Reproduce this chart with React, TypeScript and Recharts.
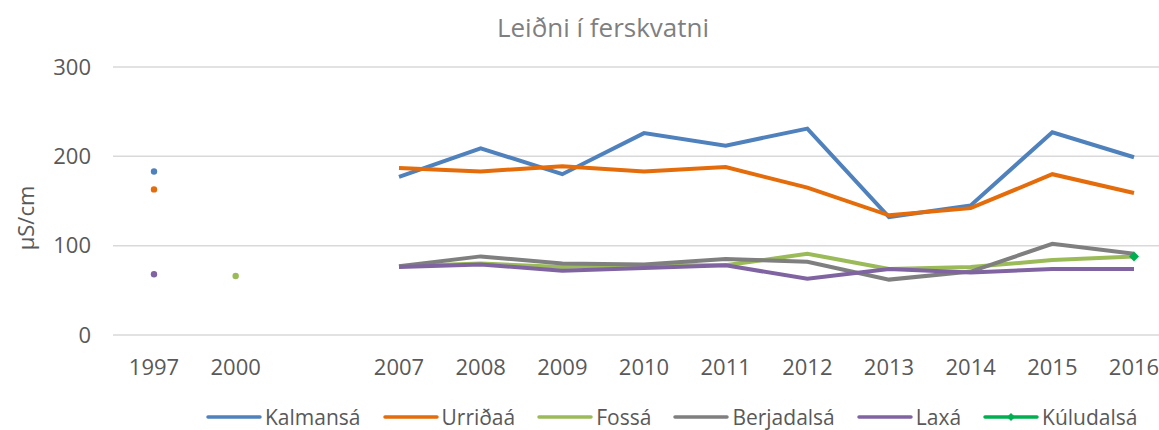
import React from "react";
import {
  CartesianGrid,
  Legend,
  Line,
  LineChart,
  XAxis,
  YAxis,
} from "recharts";

const YEARS = ["1997", "2000", "", "2007", "2008", "2009", "2010", "2011", "2012", "2013", "2014", "2015", "2016"];

const KALMANSA = [183, null, null, 177, 209, 180, 226, 212, 231, 132, 145, 227, 199];
const URRIDAA = [163, null, null, 187, 183, 189, 183, 188, 165, 134, 142, 180, 159];
const FOSSA = [null, 66, null, 77, 80, 76, 78, 78, 91, 74, 76, 84, 88];
const BERJADALSA = [null, null, null, 77, 88, 80, 79, 85, 82, 62, 71, 102, 91];
const LAXA = [68, null, null, 76, 79, 72, 75, 78, 63, 74, 70, 74, 74];
const KULUDALSA = [null, null, null, null, null, null, null, null, null, null, null, null, 88];

const Y_TICKS = [0, 100, 200, 300];

const SERIES = [
  { key: "Kalmansá", values: KALMANSA, color: "#4F81BD" },
  { key: "Urriðaá", values: URRIDAA, color: "#E46C0A" },
  { key: "Fossá", values: FOSSA, color: "#9BBB59" },
  { key: "Berjadalsá", values: BERJADALSA, color: "#7F7F7F" },
  { key: "Laxá", values: LAXA, color: "#8064A2" },
  { key: "Kúludalsá", values: KULUDALSA, color: "#00B050", diamond: true },
];

const data = YEARS.map((year, i) => {
  const row: Record<string, string | number | null> = { year };
  SERIES.forEach((s) => {
    row[s.key] = s.values[i];
  });
  return row;
});

const FONT = "'Open Sans', sans-serif";
const TEXT = "#595959";

function makeDot(s: (typeof SERIES)[number]) {
  return (props: any) => {
    const { cx, cy, index } = props;
    const v = s.values;
    const isolated =
      v[index] != null && v[index - 1] == null && v[index + 1] == null;
    if (cx == null || cy == null) return <g key={`${s.key}-${index}`} />;
    if (s.diamond && v[index] != null) {
      return (
        <path
          key={`${s.key}-${index}`}
          d={`M${cx},${cy - 5} L${cx + 5},${cy} L${cx},${cy + 5} L${cx - 5},${cy} Z`}
          fill={s.color}
        />
      );
    }
    if (!isolated) return <g key={`${s.key}-${index}`} />;
    return <circle key={`${s.key}-${index}`} cx={cx} cy={cy} r={3.2} fill={s.color} />;
  };
}

function LegendContent() {
  return (
    <div
      style={{
        display: "flex",
        alignItems: "center",
        gap: 22,
        paddingLeft: 206,
        fontFamily: FONT,
        fontSize: 21,
        lineHeight: "22px",
        height: 22,
        color: TEXT,
        whiteSpace: "nowrap",
      }}
    >
      {SERIES.map((s) => (
        <div key={s.key} style={{ display: "flex", alignItems: "center" }}>
          <svg width={56} height={12} style={{ marginRight: 3 }}>
            <line x1={2} y1={6} x2={54} y2={6} stroke={s.color} strokeWidth={3.5} strokeLinecap="round" />
            {s.diamond && <path d="M28,2 L32,6 L28,10 L24,6 Z" fill={s.color} />}
          </svg>
          <span>{s.key}</span>
        </div>
      ))}
    </div>
  );
}

export default function App() {
  return (
    <div
      style={{
        position: "fixed",
        left: 0,
        top: 0,
        width: 1159,
        height: 430,
        overflow: "hidden",
        background: "#fff",
      }}
    >
      <div
        style={{
          position: "absolute",
          left: 0,
          width: 1206,
          top: 9,
          textAlign: "center",
          fontFamily: FONT,
          fontSize: 26,
          color: "#7F7F7F",
        }}
      >
        Leiðni í ferskvatni
      </div>
      <LineChart
        width={1185}
        height={430}
        data={data}
        margin={{ top: 67, right: 10, bottom: 65, left: 0 }}
      >
        <CartesianGrid vertical={false} stroke="#D9D9D9" strokeWidth={1.5} />
        <XAxis
          dataKey="year"
          axisLine={false}
          tickLine={false}
          tickSize={0}
          tickMargin={24}
          height={30}
          interval={0}
          padding={{ left: 41, right: 41 }}
          tick={{ fill: TEXT, fontSize: 22, fontFamily: FONT }}
        />
        <YAxis
          width={113}
          domain={[0, 300]}
          ticks={Y_TICKS}
          axisLine={false}
          tickLine={false}
          tickSize={0}
          tickMargin={22}
          tick={{ fill: TEXT, fontSize: 22, fontFamily: FONT }}
          label={{
            content: ({ viewBox }: any) => (
              <text
                x={25}
                y={viewBox.y + viewBox.height / 2 + 17}
                transform={`rotate(-90, 25, ${viewBox.y + viewBox.height / 2 + 17})`}
                textAnchor="middle"
                dominantBaseline="central"
                fill={TEXT}
                fontSize={22}
                fontFamily={FONT}
              >
                µS/cm
              </text>
            ),
          }}
        />
        <Legend
          verticalAlign="middle"
          layout="horizontal"
          wrapperStyle={{ top: 406, left: 0, width: 1185 }}
          content={() => <LegendContent />}
        />
        {SERIES.map((s) => (
          <Line
            key={s.key}
            dataKey={s.key}
            stroke={s.color}
            strokeWidth={4}
            dot={makeDot(s)}
            activeDot={false}
            connectNulls={false}
            isAnimationActive={false}
          />
        ))}
      </LineChart>
    </div>
  );
}
